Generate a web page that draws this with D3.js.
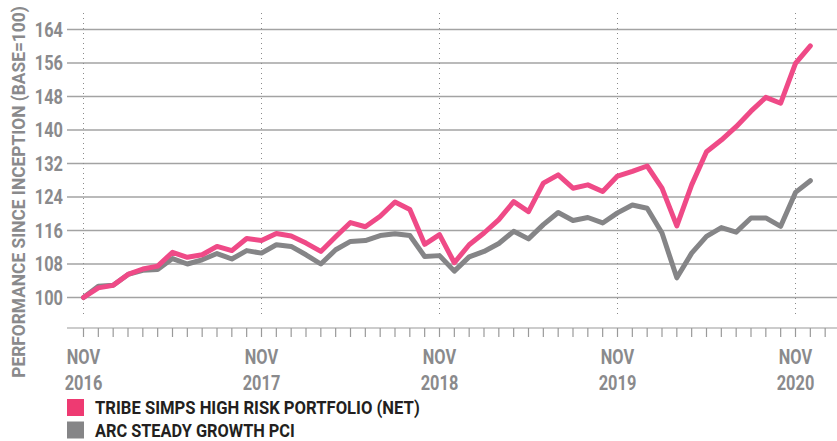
<!DOCTYPE html>
<html>
<head>
<meta charset="utf-8">
<script src="https://cdn.jsdelivr.net/npm/d3@7"></script>
<style>
  body { margin: 0; background: #fff; }
  svg { display: block; }
  text { font-family: Roboto, "Liberation Sans", sans-serif; }
</style>
</head>
<body>
<svg id="chart" width="837" height="441"></svg>
<script>
// monthly points, Nov 2016 .. Dec 2020
var months = d3.timeMonth.range(new Date(2016, 10, 1), new Date(2021, 0, 2));

var tribe = [100, 102.3, 102.9, 105.5, 106.8, 107.5, 110.8, 109.6, 110.2, 112.2, 111.2, 114.1,
  113.6, 115.3, 114.7, 113, 111, 114.5, 117.9, 116.9, 119.4, 122.8, 121, 112.7,
  115, 108.3, 112.6, 115.4, 118.6, 122.9, 120.5, 127.3, 129.3, 126.1, 126.9, 125.3,
  129, 130.1, 131.4, 126.1, 117.1, 126.9, 134.8, 137.6, 140.8, 144.5, 147.8, 146.4,
  155.9, 160.1];

var arc = [100, 102.7, 102.9, 105.5, 106.5, 106.7, 109.3, 108, 109, 110.5, 109.2, 111.2,
  110.6, 112.6, 112.2, 110.2, 108, 111.4, 113.4, 113.6, 114.8, 115.2, 114.8, 109.8,
  110, 106.3, 109.7, 111, 112.9, 115.8, 114, 117.4, 120.3, 118.4, 119.1, 117.8,
  120.2, 122.1, 121.3, 115.4, 104.7, 110.6, 114.6, 116.7, 115.6, 119, 119, 117,
  125.1, 127.9];

var yTicks = [100, 108, 116, 124, 132, 140, 148, 156, 164];
var novIdx = [0, 12, 24, 36, 48];
var seriesNames = ["TRIBE SIMPS HIGH RISK PORTFOLIO (NET)", "ARC STEADY GROWTH PCI"];
var pink = "#ef4a87", grey = "#858587", labelGrey = "#8a8a8c";
var squeeze = 0.84; // no condensed face installed, so narrow the glyphs by hand

var svg = d3.select("#chart");

//scales - month index on x
var x = d3.scaleLinear().domain([0, 48]).range([83.5, 795.5]);
var y = d3.scaleLinear().domain([100, 164]).range([297.5, 29.5]);

//horizontal gridlines
svg.append("g").selectAll("line")
  .data(yTicks).enter().append("line")
  .attr("x1", 67).attr("x2", 837)
  .attr("y1", function(d){ return y(d); })
  .attr("y2", function(d){ return y(d); })
  .style("stroke", "#a3a3a3")
  .style("stroke-width", 1.4);

//y tick labels
svg.append("g").selectAll("text")
  .data(yTicks).enter().append("text")
  .attr("transform", function(d){ return "translate(63," + (y(d) + 7) + ") scale(" + squeeze + ",1)"; })
  .attr("text-anchor", "end")
  .style("font-size", "19.5px")
  .style("font-weight", "bold")
  .style("fill", labelGrey)
  .text(function(d){ return d; });

//dotted verticals at each November
svg.append("g").selectAll("line")
  .data(novIdx).enter().append("line")
  .attr("x1", function(d){ return x(d); })
  .attr("x2", function(d){ return x(d); })
  .attr("y1", 13).attr("y2", 314)
  .style("stroke", "#8a8a8a")
  .style("stroke-width", 1)
  .style("stroke-dasharray", "1,4");

//bottom axis with monthly ticks
var axisY = 328;
svg.append("line")
  .attr("x1", 67).attr("x2", 837)
  .attr("y1", axisY).attr("y2", axisY)
  .style("stroke", "#9a9a9a").style("stroke-width", 1.2);

svg.append("g").selectAll("line")
  .data(months).enter().append("line")
  .attr("x1", function(d, i){ return x(i); })
  .attr("x2", function(d, i){ return x(i); })
  .attr("y1", axisY).attr("y2", axisY + 9)
  .style("stroke", "#9a9a9a").style("stroke-width", 1.2);

var xl = svg.append("g").selectAll("g")
  .data(novIdx).enter().append("g")
  .attr("transform", function(d){ return "translate(" + x(d) + ",0)"; });
xl.append("text")
  .attr("transform", "translate(0,364) scale(" + squeeze + ",1)")
  .text(function(d){ return d3.timeFormat("%b")(months[d]).toUpperCase(); });
xl.append("text")
  .attr("transform", "translate(0,390) scale(" + squeeze + ",1)")
  .text(function(d){ return d3.timeFormat("%Y")(months[d]); });
xl.selectAll("text")
  .attr("text-anchor", "middle")
  .style("font-size", "19.5px")
  .style("font-weight", "bold")
  .style("fill", labelGrey);

//fit a text to a width by narrowing it
function fit(sel, w) {
  sel.each(function(){
    var len = this.getComputedTextLength();
    var t = d3.select(this);
    t.attr("transform", t.attr("transform") + " scale(" + (w / len) + ",1)");
  });
}

//y axis title
svg.append("text")
  .attr("transform", "translate(25,192) rotate(-90)")
  .attr("text-anchor", "middle")
  .style("font-size", "17.5px")
  .style("font-weight", "bold")
  .style("fill", labelGrey)
  .text("PERFORMANCE SINCE INCEPTION (BASE=100)")
  .call(fit, 372);

//lines
var line = d3.line()
  .x(function(d, i){ return x(i); })
  .y(function(d){ return y(d); });

svg.append("path")
  .datum(arc)
  .attr("d", line)
  .style("fill", "none")
  .style("stroke", grey)
  .style("stroke-width", 5)
  .style("stroke-linejoin", "round")
  .style("stroke-linecap", "round");

svg.append("path")
  .datum(tribe)
  .attr("d", line)
  .style("fill", "none")
  .style("stroke", pink)
  .style("stroke-width", 5)
  .style("stroke-linejoin", "round")
  .style("stroke-linecap", "round");

//legend
var legendW = [325, 200];
var legend = svg.append("g").selectAll("g")
  .data(seriesNames).enter().append("g")
  .attr("transform", function(d, i){ return "translate(67," + (399 + i * 22.5) + ")"; });

legend.append("rect")
  .attr("width", 17).attr("height", 17)
  .style("fill", function(d, i){ return i === 0 ? "#ee3a72" : grey; });

legend.append("text")
  .attr("transform", "translate(28,15)")
  .style("font-size", "18.5px")
  .style("font-weight", "bold")
  .style("fill", "#231f20")
  .text(function(d){ return d; })
  .each(function(d, i){ d3.select(this).call(fit, legendW[i]); });
</script>
</body>
</html>
